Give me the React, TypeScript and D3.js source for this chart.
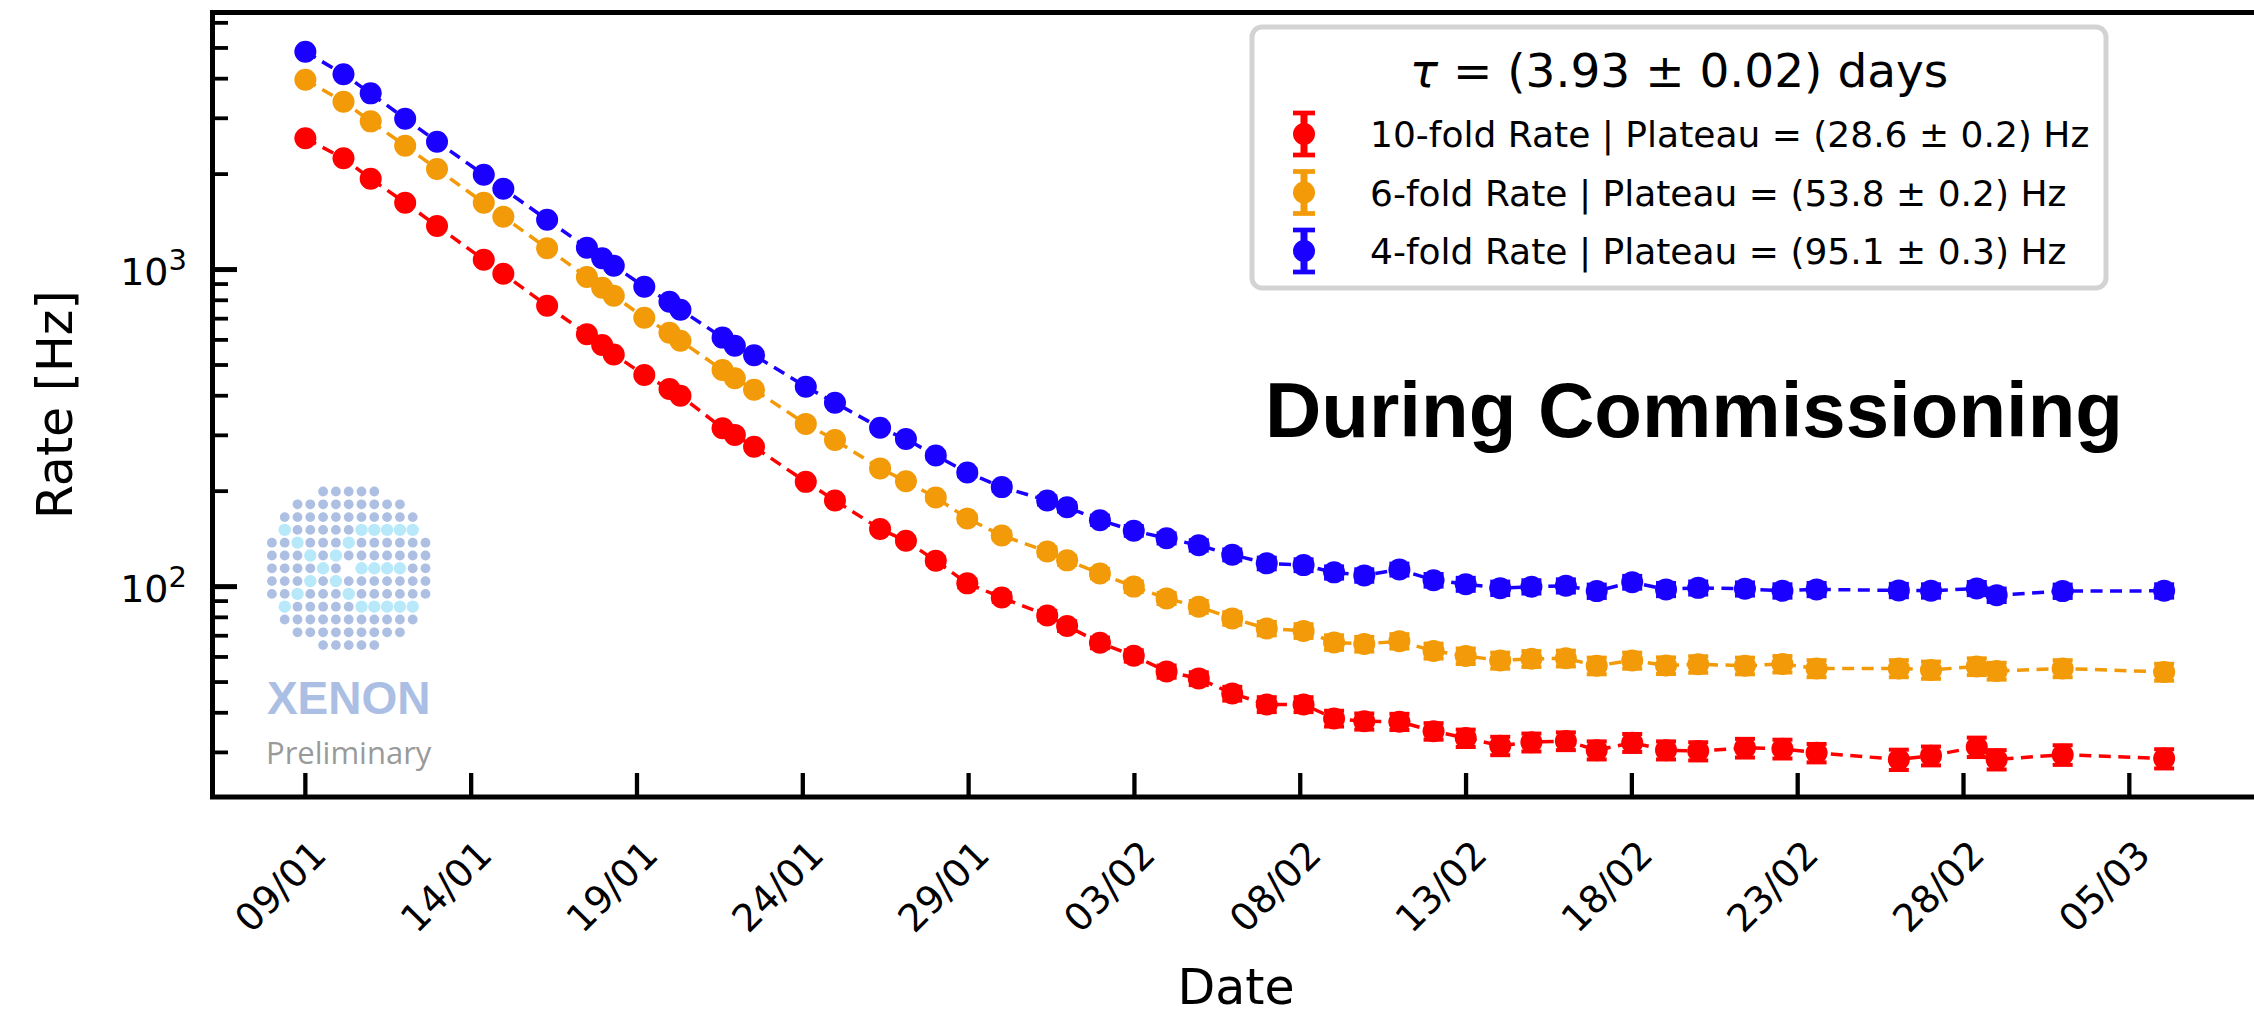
import React from "react";
import * as d3 from "d3";

// ---------- data ----------
const startDate = "2021-01-09";
const dayOffsets = [0.0, 1.15, 1.97, 3.01, 3.97, 5.38, 5.97, 7.29, 8.49, 8.95, 9.3, 10.22, 10.98, 11.31, 12.58, 12.95, 13.53, 15.09, 15.97, 17.33, 18.11, 19.01, 19.96, 21.0, 22.37, 22.97, 23.96, 24.98, 25.97, 26.94, 27.95, 28.99, 30.1, 31.02, 31.93, 32.99, 34.02, 34.99, 36.03, 36.97, 38.01, 38.94, 40.01, 41.03, 42.0, 43.41, 44.54, 45.57, 48.05, 49.02, 50.4, 51.0, 52.99, 56.05];

const rate10fold = [2594, 2243, 1934, 1624, 1372, 1074, 970, 769, 625, 578, 540, 465, 420, 400, 316, 301, 276, 214, 187, 152, 139.5, 120.6, 102.4, 92.4, 81.1, 75.1, 66.5, 60.5, 54.0, 51.3, 46.0, 42.5, 42.5, 38.4, 37.6, 37.5, 35.0, 33.3, 31.5, 32.3, 32.6, 30.5, 32.2, 30.5, 30.3, 31.0, 30.8, 29.9, 28.5, 29.3, 31.2, 28.5, 29.5, 28.7];
const err10fold = [32, 28, 24, 21, 18, 15, 13, 11, 9, 8.5, 8, 7.5, 7, 6.5, 5.5, 5.5, 5, 4.2, 4, 3.6, 3.3, 3.2, 3.0, 2.9, 2.8, 2.7, 2.6, 2.5, 2.4, 2.4, 2.3, 2.3, 2.3, 2.2, 2.2, 2.2, 2.1, 2.1, 2.1, 2.1, 2.1, 2.0, 2.1, 2.0, 2.0, 2.1, 2.1, 2.0, 2.1, 2.0, 2.2, 2.0, 2.1, 2.0];

const rate6fold = [3970, 3383, 2934, 2458, 2075, 1624, 1468, 1167, 947, 876, 827, 705, 632, 596, 482, 454, 418, 326, 290, 236, 215, 191, 164, 145, 129, 121, 110, 100, 91.8, 86.4, 79.4, 73.8, 72.5, 66.7, 65.9, 67.3, 62.7, 60.4, 58.5, 59.2, 59.4, 56.3, 58.5, 56.4, 56.9, 56.3, 57.0, 55.2, 55.2, 54.6, 56.0, 54.2, 55.2, 53.8];
const err6fold = [40, 35, 30, 26, 22, 18, 17, 14, 12, 11, 10.5, 9.5, 9, 8.5, 7.2, 6.8, 6.4, 5.6, 5.3, 4.8, 4.6, 4.4, 4.2, 4.1, 4.0, 3.9, 3.8, 3.8, 3.7, 3.7, 3.6, 3.6, 3.6, 3.5, 3.5, 3.5, 3.4, 3.4, 3.4, 3.4, 3.4, 3.4, 3.4, 3.4, 3.4, 3.4, 3.4, 3.4, 3.4, 3.4, 3.4, 3.3, 3.4, 3.3];

const rate4fold = [4866, 4130, 3595, 2991, 2531, 1991, 1798, 1436, 1172, 1085, 1028, 883, 791, 747, 610, 575, 537, 427, 380, 317, 292, 259, 229, 206, 187, 178, 162, 150, 142, 135, 126, 118.4, 116.9, 110.9, 108.5, 113.3, 104.8, 101.8, 98.9, 99.9, 100.6, 96.8, 103.3, 98.0, 99.1, 98.4, 97.0, 98.0, 97.3, 97.0, 98.7, 94.0, 96.8, 97.0];
const err4fold = [48, 42, 37, 32, 28, 23, 22, 18, 15, 14, 13.5, 12, 11, 10.5, 9.5, 9, 8.8, 7.6, 7.2, 6.8, 6.4, 6.2, 6.0, 5.8, 5.6, 5.5, 5.4, 5.3, 5.2, 5.1, 5.0, 5.0, 5.0, 4.9, 4.9, 4.9, 4.8, 4.8, 4.8, 4.8, 4.8, 4.7, 4.8, 4.7, 4.7, 4.7, 4.7, 4.7, 4.7, 4.7, 4.7, 4.6, 4.7, 4.7];

const seriesLabels = [
  "10-fold Rate | Plateau = (28.6 ± 0.2) Hz",
  "6-fold Rate | Plateau = (53.8 ± 0.2) Hz",
  "4-fold Rate | Plateau = (95.1 ± 0.3) Hz",
];
const seriesColors = ["#ff0000", "#f29a07", "#1a00ff"];
const legendTitleRest = " = (3.93 ± 0.02) days";

const xTickDates = ["2021-01-09", "2021-01-14", "2021-01-19", "2021-01-24", "2021-01-29", "2021-02-03", "2021-02-08", "2021-02-13", "2021-02-18", "2021-02-23", "2021-02-28", "2021-03-05"];
const yMajorTicks = [100, 1000];
const xDomainDays = [-2.8, 58.85];
const yDomain = [21.7, 6468];

const logoRows = [
  "....bbbbb....",
  "..bbbbbbbbb..",
  ".bbbbbbbbbbb.",
  ".cbbbbbccccc.",
  "bbcbbbcbbbbbb",
  "bbbcbcbbbbbbb",
  "bbbbcb.ccccbb",
  "bbbcbcbbbbbbb",
  "bbcbbbcbbbbbb",
  ".cbbbbbccccc.",
  ".bbbbbbbbbbb.",
  "..bbbbbbbbb..",
  "....bbbbb....",
];

const FONT = "'DejaVu Sans', sans-serif";

export default function App() {
  const W = 2254;
  const H = 1019;
  const left = 212.5, right = 2257, top = 12.5, bottom = 797;

  const parse = d3.timeParse("%Y-%m-%d");
  const t0 = parse(startDate) as Date;
  const toDate = (d: number) => new Date(t0.getTime() + d * 86400000);
  const fmt = d3.timeFormat("%d/%m");

  const x = d3.scaleTime().domain([toDate(xDomainDays[0]), toDate(xDomainDays[1])]).range([left, right]);
  const y = d3.scaleLog().domain(yDomain).range([bottom, top]);

  const series = [
    { vals: rate10fold, errs: err10fold },
    { vals: rate6fold, errs: err6fold },
    { vals: rate4fold, errs: err4fold },
  ];

  const line = d3
    .line<number>()
    .x((_, i) => x(toDate(dayOffsets[i])))
    .y((v) => y(v));

  const minorTicks = y
    .ticks(20)
    .filter((t) => {
      const l = Math.log10(t);
      return Math.abs(l - Math.round(l)) > 1e-6 && t >= yDomain[0] && t <= yDomain[1];
    });

  const capHalf = 10;
  const markerR = 11;

  // logo
  const logoCx = 348.7, logoCy = 568.3, logoStep = 12.8;

  return (
    <svg width={W} height={H} style={{ position: "absolute", left: 0, top: 0, background: "#fff" }} fontFamily={FONT}>
      <rect x={0} y={0} width={W} height={H} fill="#ffffff" />

      {/* logo */}
      <g>
        {logoRows.map((row, r) =>
          row.split("").map((ch, c) => {
            if (ch === ".") return null;
            const cx = logoCx + (c - 6) * logoStep;
            const cy = logoCy + (r - 6) * logoStep;
            return (
              <circle key={`l${r}-${c}`} cx={cx} cy={cy} r={ch === "c" ? 6.2 : 4.9} fill={ch === "c" ? "#b8e9fb" : "#adbfe2"} />
            );
          })
        )}
        <text x={logoCx} y={714} textAnchor="middle" fontFamily="'Liberation Sans', Arial, sans-serif" fontWeight="bold" fontSize={46} fill="#abbee3">
          XENON
        </text>
        <text x={logoCx} y={764} textAnchor="middle" fontFamily="'Open Sans', sans-serif" fontSize={31} fill="#9a9a9a">
          Preliminary
        </text>
      </g>

      {/* series */}
      {series.map((s, si) => {
        const col = seriesColors[si];
        return (
          <g key={`s${si}`}>
            <path d={line(s.vals) || ""} fill="none" stroke={col} strokeWidth={3.5} strokeDasharray="12 7.5" />
            {s.vals.map((v, i) => {
              const px = x(toDate(dayOffsets[i]));
              const y1 = y(v + s.errs[i]);
              const y2 = y(v - s.errs[i]);
              return (
                <g key={`e${i}`} stroke={col}>
                  <line x1={px} x2={px} y1={y1} y2={y2} strokeWidth={5} />
                  <line x1={px - capHalf} x2={px + capHalf} y1={y1} y2={y1} strokeWidth={4} />
                  <line x1={px - capHalf} x2={px + capHalf} y1={y2} y2={y2} strokeWidth={4} />
                </g>
              );
            })}
            {s.vals.map((v, i) => (
              <circle key={`m${i}`} cx={x(toDate(dayOffsets[i]))} cy={y(v)} r={markerR} fill={col} />
            ))}
          </g>
        );
      })}

      {/* y ticks */}
      {yMajorTicks.map((t) => (
        <g key={`ym${t}`}>
          <line x1={left} x2={left + 24.5} y1={y(t)} y2={y(t)} stroke="#000" strokeWidth={5} />
          <text x={187} y={y(t) + 15.5} textAnchor="end" fontSize={38} fill="#000">
            10
            <tspan dy={-15} fontSize={29}>
              {String(Math.round(Math.log10(t)))}
            </tspan>
          </text>
        </g>
      ))}
      {minorTicks.map((t) => (
        <line key={`yn${t}`} x1={left} x2={left + 15.5} y1={y(t)} y2={y(t)} stroke="#000" strokeWidth={3.8} />
      ))}

      {/* x ticks */}
      {xTickDates.map((ds) => {
        const d = parse(ds) as Date;
        const px = x(d);
        return (
          <g key={ds}>
            <line x1={px} x2={px} y1={bottom} y2={bottom - 24} stroke="#000" strokeWidth={4.3} />
            <text transform={`translate(${px + 23},${857}) rotate(-45)`} textAnchor="end" fontSize={38} fill="#000">
              {fmt(d)}
            </text>
          </g>
        );
      })}

      {/* spines */}
      <rect x={left} y={top} width={right - left} height={bottom - top} fill="none" stroke="#000" strokeWidth={5} />

      {/* axis labels */}
      <text x={1236} y={1004} textAnchor="middle" fontSize={49} fill="#000">
        Date
      </text>
      <text transform={`translate(72,${(top + bottom) / 2}) rotate(-90)`} textAnchor="middle" fontSize={49} fill="#000">
        Rate [Hz]
      </text>

      {/* annotation */}
      <text x={1265} y={437} fontFamily="'Liberation Sans', Arial, Helvetica, sans-serif" fontWeight="bold" fontSize={78} fill="#000">
        During Commissioning
      </text>

      {/* legend */}
      <g>
        <rect x={1252} y={27} width={854} height={261} rx={10} ry={10} fill="#fff" stroke="#d3d3d3" strokeWidth={5} />
        <text x={1679} y={87} textAnchor="middle" fontSize={47} fill="#000">
          <tspan fontStyle="italic">τ</tspan>
          {legendTitleRest}
        </text>
        {seriesLabels.map((lab, i) => {
          const cy = 134 + i * 58.5;
          const hx = 1304;
          const col = seriesColors[i];
          return (
            <g key={`lg${i}`}>
              <line x1={hx} x2={hx} y1={cy - 21} y2={cy + 21} stroke={col} strokeWidth={7} />
              <line x1={hx - 11} x2={hx + 11} y1={cy - 21} y2={cy - 21} stroke={col} strokeWidth={4.7} />
              <line x1={hx - 11} x2={hx + 11} y1={cy + 21} y2={cy + 21} stroke={col} strokeWidth={4.7} />
              <circle cx={hx} cy={cy} r={markerR} fill={col} />
              <text x={1370} y={cy + 13} fontSize={36} fill="#000">
                {lab}
              </text>
            </g>
          );
        })}
      </g>
    </svg>
  );
}
